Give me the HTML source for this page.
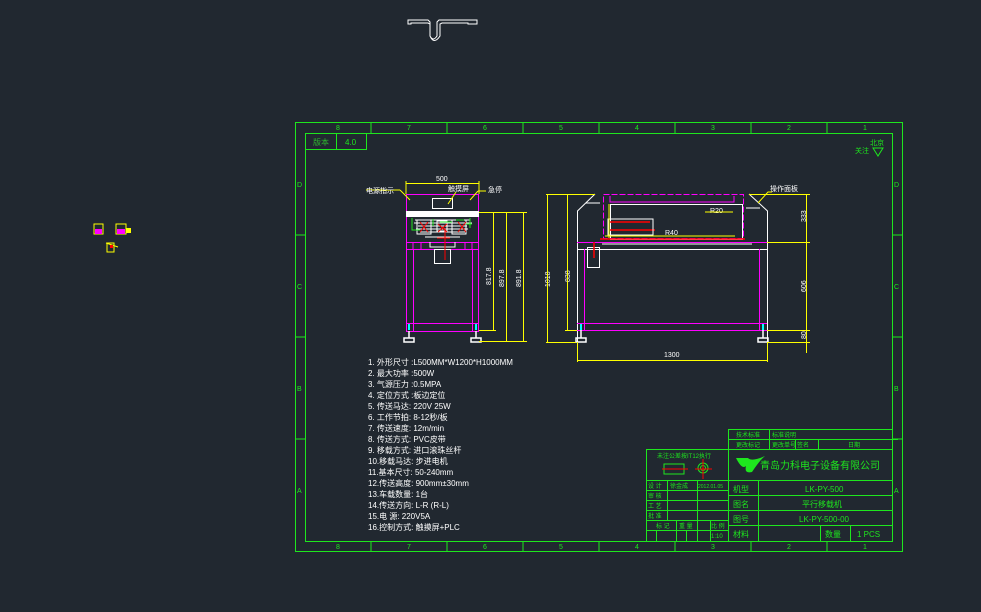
<!DOCTYPE html>
<html><head><meta charset="utf-8"><style>
html,body{margin:0;padding:0;background:#212830;}
svg{display:block}
text{font-family:"Liberation Sans","Noto Sans CJK SC",sans-serif;}
</style></head><body>
<svg width="981" height="612" viewBox="0 0 981 612" xmlns="http://www.w3.org/2000/svg">
<rect width="981" height="612" fill="#212830"/>
<!-- top white profile -->
<path d="M408,20 H428 L430,22 V36 Q433,42 437,36 V22 L439,20 H477 V24 H468 V23 H442 L440,24 V36 Q434,45 430,36 V24 L428,23 H411 V24 H408 Z" fill="none" stroke="#fff" stroke-width="1"/>
<!-- small icons left -->
<g>
<rect x="94" y="224" width="9" height="10" fill="none" stroke="#ff0" stroke-width="1"/>
<rect x="95" y="229" width="7" height="5" fill="#f0f"/>
<rect x="116" y="224" width="10" height="10" fill="none" stroke="#ff0" stroke-width="1"/>
<rect x="117" y="229" width="8" height="5" fill="#f0f"/>
<rect x="126" y="228" width="5" height="5" fill="#ff0"/>
<rect x="107" y="243" width="7" height="9" fill="none" stroke="#ff0"/>
<path d="M106,243 L118,247" stroke="#ff0"/><rect x="110" y="245" width="3" height="3" fill="#f00"/>
</g>
<!-- frame -->
<g stroke="#1ee61e" fill="none" stroke-width="1">
<rect x="295.5" y="122.5" width="607" height="429"/>
<rect x="305.5" y="133.5" width="587" height="408"/>
<path d="M371,122 V133 M447,122 V133 M523,122 V133 M599,122 V133 M675,122 V133 M751,122 V133 M827,122 V133"/>
<path d="M371,541 V551 M447,541 V551 M523,541 V551 M599,541 V551 M675,541 V551 M751,541 V551 M827,541 V551"/>
<path d="M295,235 H305 M295,337 H305 M295,439 H305 M892,235 H902 M892,337 H902 M892,439 H902"/>
<rect x="305.5" y="133.5" width="61" height="16"/>
<path d="M336.5,133 V150"/>
</g>
<g fill="#1ee61e" font-size="7">
<text x="336" y="130">8</text><text x="407" y="130">7</text><text x="483" y="130">6</text><text x="559" y="130">5</text><text x="635" y="130">4</text><text x="711" y="130">3</text><text x="787" y="130">2</text><text x="863" y="130">1</text>
<text x="336" y="549">8</text><text x="407" y="549">7</text><text x="483" y="549">6</text><text x="559" y="549">5</text><text x="635" y="549">4</text><text x="711" y="549">3</text><text x="787" y="549">2</text><text x="863" y="549">1</text>
<text x="297" y="187">D</text><text x="297" y="289">C</text><text x="297" y="391">B</text><text x="297" y="493">A</text>
<text x="894" y="187">D</text><text x="894" y="289">C</text><text x="894" y="391">B</text><text x="894" y="493">A</text>
<text x="313" y="145" font-size="8" fill="#2fb82f">版本</text><text x="345" y="145" font-size="8">4.0</text>
<text x="855" y="153" font-size="7">关注</text><text x="870" y="145" font-size="7">北京</text>
</g>
<path d="M873,148 L878,156 L883,148 Z" fill="none" stroke="#1ee61e"/>

<!-- LEFT VIEW -->
<g fill="none" stroke-width="1">
<g stroke="#ff00ff">
<rect x="406.5" y="194.5" width="72" height="137"/>
<path d="M406,242.5 H479 M406,249.5 H479 M413.5,249 V331 M472.5,249 V331 M406,323.5 H479 M413,242 V249 M421,242 V249 M465,242 V249 M472,242 V249"/>
</g>
<rect x="406" y="211" width="73" height="6" fill="#fff"/>
<rect x="432.5" y="198.5" width="20" height="10" stroke="#fff"/>
<g stroke="#fff">
<path d="M415,220 H470 M418,226 H467 M420,232 H465 M425,237 H460 M414,223 H472 M416,229 H468"/>
<rect x="434.5" y="249.5" width="16" height="14"/>
<path d="M430,242 V247 H455 V242"/>
<rect x="417" y="220" width="14" height="14"/><rect x="452" y="220" width="14" height="14"/>
<rect x="437" y="221" width="10" height="10"/>
</g>
<g stroke="#1ee61e"><path d="M412,218 V230 H420 M470,218 V228 M440,222 H452 M456,220 H464 M433,219 V226 M466,224 H472"/></g>
<g stroke="#f00"><path d="M420,222 L428,232 M428,222 L420,232 M445,228 V260 M437,238 H450 M458,222 L466,232 M466,222 L458,232 M438,224 L447,232 M447,224 L438,232"/></g>
<g stroke="#fff" stroke-width="1.5"><path d="M409,331 V338 M476,331 V338"/><rect x="404" y="338" width="10" height="4"/><rect x="471" y="338" width="10" height="4"/></g>
<rect x="408" y="324" width="2" height="6" fill="#0ff"/><rect x="475" y="324" width="2" height="6" fill="#0ff"/>
<g stroke="#ffff00">
<path d="M406,181 V194 M479,181 V194 M406,183.5 H479"/>
<path d="M479,212.5 H527 M479,330.5 H496 M479,341.5 H527"/>
<path d="M493.5,212 V330 M506.5,212 V341 M523.5,212 V341"/>
<path d="M400,190 L410,200 M456,192 L448,204 M478,191 L470,200"/>
<path d="M366,190 H400 M478,191 H486"/>
</g>
</g>
<g fill="#fff" font-size="7">
<text x="436" y="181" font-size="7">500</text>
<text x="366" y="193">电源指示</text><text x="448" y="191">触摸屏</text><text x="488" y="192">急停</text>
</g>
<g fill="#fff" font-size="7">
<text transform="translate(491,285) rotate(-90)">817.8</text>
<text transform="translate(504,287) rotate(-90)">897.8</text>
<text transform="translate(521,287) rotate(-90)">891.8</text>
<text transform="translate(550,287) rotate(-90)">1018</text>
<text transform="translate(570,282) rotate(-90)">838</text>
<text transform="translate(806,222) rotate(-90)">333</text>
<text transform="translate(806,292) rotate(-90)">606</text>
<text transform="translate(806,339) rotate(-90)">80</text>
<text x="664" y="357">1300</text>
<text x="770" y="191">操作面板</text>
<text x="710" y="213">R20</text><text x="665" y="235">R40</text>
</g>
<!-- RIGHT VIEW -->
<g fill="none" stroke-width="1">
<g stroke="#fff">
<path d="M577.5,342 V211 L595,194 M767.5,342 V211 L749,194"/>
<path d="M577,249.5 H767"/>
<rect x="610.5" y="204.5" width="132" height="35"/>
<rect x="587.5" y="247.5" width="12" height="20"/>
<path d="M586,203 H600 M746,208 H760"/>
</g>
<g stroke="#ff00ff">
<rect x="603.5" y="194.5" width="140" height="44" stroke-dasharray="6,2"/>
<path d="M577,242.5 H767 M584.5,249 V330 M759.5,249 V330 M577,323.5 H767 M577,330.5 H767"/>
<path d="M610,196 V202 H734 V196"/>
</g>
<g stroke="#f00" stroke-width="1.5"><path d="M600,239 H745 M610,222 H650 M610,230 H655 M594,242 V258"/></g>
<g stroke="#fff"><rect x="608" y="219" width="45" height="16"/><path d="M602,244 H752"/></g>
<g stroke="#ffff00"><path d="M609,204 V238 M733,212 H705 M605,236 H735"/></g>
<g stroke="#fff" stroke-width="1.5"><path d="M581,330 V338 M763,330 V338"/><rect x="576" y="338" width="10" height="4"/><rect x="758" y="338" width="10" height="4"/></g>
<rect x="580" y="324" width="2" height="6" fill="#0ff"/><rect x="762" y="324" width="2" height="6" fill="#0ff"/>
<g stroke="#ffff00">
<path d="M546,194.5 H595 M546,342.5 H576 M565,330.5 H577"/>
<path d="M547.5,194 V342 M567.5,194 V330"/>
<path d="M749,194.5 H810 M767,242.5 H810 M767,330.5 H810 M767,342.5 H810"/>
<path d="M806.5,194 V353"/>
<path d="M577.5,342 V362 M767.5,342 V362 M577,360.5 H767"/>
<path d="M758,203 L768,192 H772"/>
</g>
</g>

<!-- SPEC LIST -->
<g fill="#fff" font-size="8">
<text x="368" y="365">1.  外形尺寸 :L500MM*W1200*H1000MM</text>
<text x="368" y="376">2.  最大功率 :500W</text>
<text x="368" y="387">3.  气源压力 :0.5MPA</text>
<text x="368" y="398">4.  定位方式 :板边定位</text>
<text x="368" y="409">5.  传送马达:   220V 25W</text>
<text x="368" y="420">6.  工作节拍:     8-12秒/板</text>
<text x="368" y="431">7.  传送速度:   12m/min</text>
<text x="368" y="442">8.  传送方式:     PVC皮带</text>
<text x="368" y="453">9.  移载方式:   进口滚珠丝杆</text>
<text x="368" y="464">10.移载马达:   步进电机</text>
<text x="368" y="475">11.基本尺寸:   50-240mm</text>
<text x="368" y="486">12.传送高度:   900mm±30mm</text>
<text x="368" y="497">13.车载数量:   1台</text>
<text x="368" y="508">14.传送方向:   L-R  (R-L)</text>
<text x="368" y="519">15.电     源:   220V5A</text>
<text x="368" y="530">16.控制方式:   触摸屏+PLC</text>
</g>

<!-- TITLE BLOCK -->
<g stroke="#1ee61e" fill="none" stroke-width="1">
<path d="M728.5,429.5 H892 M728.5,439.5 H898 M728.5,429 V449"/>
<path d="M769.5,429 V449 M795.5,439 V449 M818.5,439 V449"/>
<path d="M646.5,449.5 H892 M646.5,449 V541"/>
<path d="M646,480.5 H728 M646,490.5 H728 M646,500.5 H728 M646,510.5 H728 M646,520.5 H728 M646,530.5 H728"/>
<path d="M667.5,480 V520 M697.5,480 V520 M676.5,520 V541 M697.5,520 V541 M710.5,520 V541 M656.5,530 V541 M686.5,530 V541"/>
<path d="M728.5,449 V541"/>
<path d="M728,480.5 H892 M728,495.5 H892 M728,510.5 H892 M728,525.5 H892"/>
<path d="M758.5,480 V541 M820.5,525 V541 M850.5,525 V541"/>
</g>
<g fill="#1ee61e" font-size="7">
<text x="736" y="437" font-size="6">技术标准</text><text x="772" y="437" font-size="6">标准说明</text>
<text x="736" y="447" font-size="6">更改标记</text><text x="772" y="447" font-size="6">更改单号</text><text x="797" y="447" font-size="6">签名</text><text x="848" y="447" font-size="6">日期</text>
<text x="657" y="458" font-size="6">未注公差按IT12执行</text>
<text x="648" y="488" font-size="6">设  计</text><text x="670" y="488" font-size="6">徐金成</text><text x="698" y="488" font-size="5">2012.01.05</text>
<text x="648" y="498" font-size="6">审  核</text><text x="648" y="508" font-size="6">工  艺</text><text x="648" y="518" font-size="6">批  准</text>
<text x="656" y="528" font-size="6">标  记</text><text x="679" y="528" font-size="6">重 量</text><text x="711" y="528" font-size="6">比 例</text>
<text x="711" y="538" font-size="6">1:10</text>
<text x="760" y="469" font-size="10">青岛力科电子设备有限公司</text>
<text x="733" y="492" font-size="8">机型</text><text x="805" y="492" font-size="8">LK-PY-500</text>
<text x="733" y="507" font-size="8">图名</text><text x="802" y="507" font-size="8">平行移载机</text>
<text x="733" y="522" font-size="8">图号</text><text x="799" y="522" font-size="8">LK-PY-500-00</text>
<text x="733" y="537" font-size="8">材料</text><text x="825" y="537" font-size="8">数量</text><text x="857" y="537" font-size="8">1   PCS</text>
</g>
<path d="M736,458 Q742,470 746,466 Q744,474 752,472 Q760,460 765,456 Q752,462 748,458 Z" fill="#1ee61e"/>
<g fill="none" stroke="#1ee61e"><path d="M664,464 H684 V474 H664 Z"/><circle cx="703" cy="468" r="5"/><circle cx="703" cy="468" r="2.5"/></g>
<g stroke="#f00"><path d="M662,469 H688 M695,469 H712 M703,459 V479"/></g>
</svg>
</body></html>
